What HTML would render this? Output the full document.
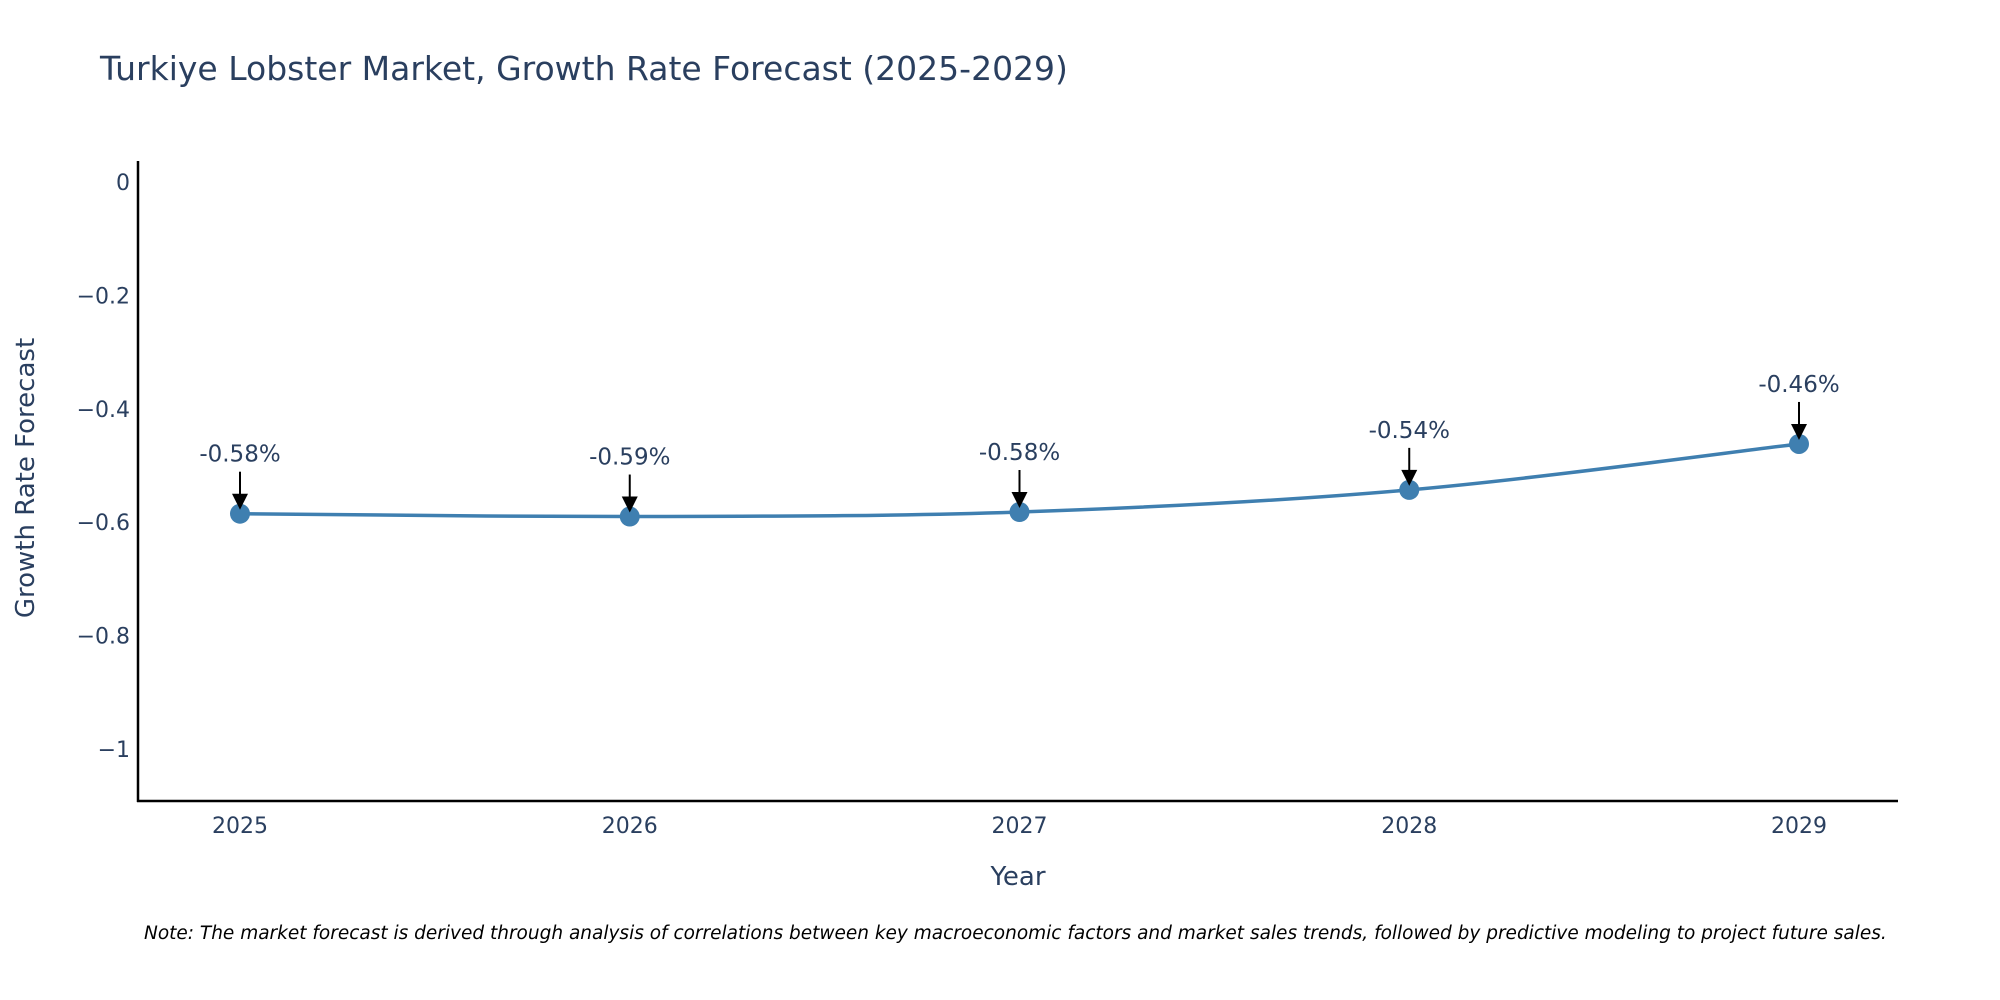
<!DOCTYPE html>
<html><head><meta charset="utf-8"><style>
body{margin:0;background:#fff;}
svg{display:block;font-family:"DejaVu Sans","Liberation Sans",sans-serif;}
</style></head><body>
<svg id="chart" width="2000" height="1000">
<text x="100" y="80" font-size="33" fill="#2a3f5f">Turkiye Lobster Market, Growth Rate Forecast (2025-2029)</text>
<g id="yticks"></g>
<g id="xticks"></g>
<line x1="138" y1="161" x2="138" y2="802" stroke="#000" stroke-width="2.5"/>
<line x1="137" y1="801" x2="1898" y2="801" stroke="#000" stroke-width="2.5"/>
<path id="line" fill="none" stroke="#3f7fb0" stroke-width="3.5"/>
<g id="points"></g>
<g id="annots"></g>
<text x="1018" y="885" font-size="26" fill="#2a3f5f" text-anchor="middle">Year</text>
<text transform="translate(34,478) rotate(-90)" font-size="26" fill="#2a3f5f" text-anchor="middle">Growth Rate Forecast</text>
<text x="144" y="939" font-size="18.5" font-style="italic" fill="#000">Note: The market forecast is derived through analysis of correlations between key macroeconomic factors and market sales trends, followed by predictive modeling to project future sales.</text>
</svg>
<script>
const years = [2025, 2026, 2027, 2028, 2029];
const values = [-0.585, -0.59, -0.582, -0.543, -0.462];
const labels = ["-0.58%", "-0.59%", "-0.58%", "-0.54%", "-0.46%"];
const yTicks = [0, -0.2, -0.4, -0.6, -0.8, -1];
const yTickLabels = ["0", "\u22120.2", "\u22120.4", "\u22120.6", "\u22120.8", "\u22121"];

const NS = "http://www.w3.org/2000/svg";
function xs(yr){ return 240 + (yr - 2025) * 389.75; }
function ys(v){ return 182 - v * 567; }
function mk(tag, attrs, parent){
  const e = document.createElementNS(NS, tag);
  for (const k in attrs) e.setAttribute(k, attrs[k]);
  parent.appendChild(e); return e;
}
const yg = document.getElementById('yticks');
yTicks.forEach((v,i)=>{
  const t = mk('text', {x:130, y:ys(v)+8, 'font-size':22, fill:'#2a3f5f', 'text-anchor':'end'}, yg);
  
  
  t.textContent = yTickLabels[i];
});
const xg = document.getElementById('xticks');
years.forEach(yr=>{
  const t = mk('text', {x:xs(yr), y:833, 'font-size':22, fill:'#2a3f5f', 'text-anchor':'middle'}, xg);
  
  
  t.textContent = yr;
});
const P = years.map((yr,i)=>[xs(yr), ys(values[i])]);
let d = `M${P[0][0]},${P[0][1]}`;
const s = 1/6;
for (let i=0;i<P.length-1;i++){
  const p0 = P[Math.max(0,i-1)], p1 = P[i], p2 = P[i+1], p3 = P[Math.min(P.length-1,i+2)];
  const c1 = [p1[0]+(p2[0]-p0[0])*s, p1[1]+(p2[1]-p0[1])*s];
  const c2 = [p2[0]-(p3[0]-p1[0])*s, p2[1]-(p3[1]-p1[1])*s];
  d += ` C${c1[0]},${c1[1]} ${c2[0]},${c2[1]} ${p2[0]},${p2[1]}`;
}
document.getElementById('line').setAttribute('d', d);
const pg = document.getElementById('points'), ag = document.getElementById('annots');
P.forEach((p,i)=>{
  const c = mk('circle', {cx:p[0], cy:p[1], r:10, fill:'#3f7fb0'}, pg);
  
  
  const l = mk('line', {x1:p[0], y1:p[1]-42, x2:p[0], y2:p[1]-18, stroke:'#000', 'stroke-width':2}, ag);
  
  
  const h = mk('path', {d:`M${p[0]-8},${p[1]-20} L${p[0]+8},${p[1]-20} L${p[0]},${p[1]-4} Z`, fill:'#000'}, ag);
  
  
  const t = mk('text', {x:p[0], y:p[1]-52, 'font-size':23, fill:'#2a3f5f', 'text-anchor':'middle'}, ag);
  
  
  t.textContent = labels[i];
});
</script>
</body></html>
